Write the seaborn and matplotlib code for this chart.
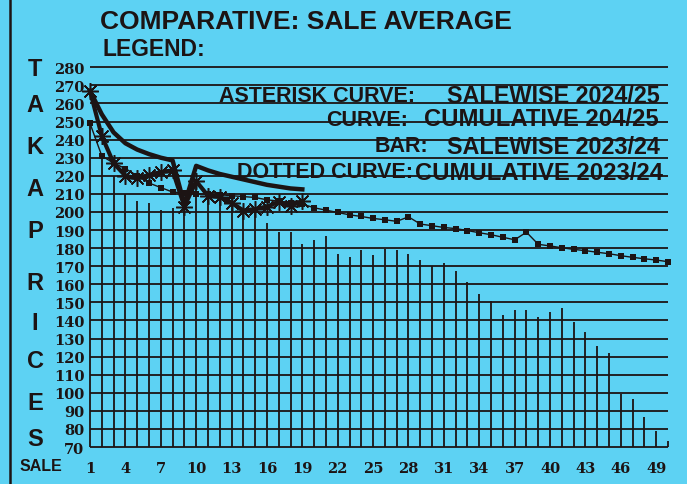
import numpy as np
import matplotlib
matplotlib.use("Agg")
import matplotlib.pyplot as plt
import seaborn as sns
from matplotlib.lines import Line2D

# values
sales = list(range(1, 51))
bar_2324 = [250, 232, 220, 210, 206, 205, 201, 202, 203, 216,
            209, 209, 209, 202, 203, 194, 189, 189, 182, 184.5,
            186.5, 176.5, 175, 179, 176, 179.5, 179, 177, 173.5, 170,
            171.5, 167.5, 161.5, 154.5, 151, 143, 146, 146, 142, 144.5,
            147, 139, 133.5, 126, 122, 99.5, 96.5, 86.5, 79, 73.5]
cum_2324 = [249, 231, 227, 224, 220, 216, 213.5, 211, 210.5, 210,
            209.8, 209.5, 209, 208.5, 208, 206.7, 206, 205.2, 204.4, 202.3,
            201, 199.7, 198.4, 197.5, 196.4, 195.7, 194.8, 197.3, 193.3, 192.4,
            191.4, 190.8, 189.7, 188.5, 187.4, 186, 184.6, 188.8, 182.1, 181.2,
            180.2, 179.3, 178.6, 177.7, 176.9, 175.8, 174.9, 174.1, 173.4, 172.5]
sales_2425 = list(range(1, 20))
sale_2425 = [267, 242, 227, 220, 218.5, 220.5, 222, 223, 203, 217,
             209, 208.3, 205, 200.8, 201.6, 203, 205.5, 203.5, 206]
cum_2425 = [267, 254, 244, 238, 234.5, 232, 230, 228.5, 204, 225.5,
            223, 221, 219.5, 218, 216.5, 215, 214, 213, 212.5]
yticks = list(range(70, 290, 10))
xticks = list(range(1, 50, 3))

bg = "#5dd2f3"
ink = "#1c1414"

W, H = 687, 485
fig = plt.figure(figsize=(W / 100, H / 100), dpi=100, facecolor=bg)
ax = fig.add_axes([90 / W, 1 - 448 / H, (668 - 90) / W, (448 - 68.3) / H])
ax.set_facecolor(bg)

# horizontal grid lines
ax.hlines(yticks, 1, 50, color=ink, lw=1.3, clip_on=False, zorder=1)
# bars drawn as thin vertical lines
ax.vlines(sales, 70, bar_2324, color=ink, lw=1.3, clip_on=False, zorder=2)

sns.lineplot(x=sales, y=cum_2324, ax=ax, color=ink, lw=1.0, marker="s",
             markersize=5, markeredgewidth=0, legend=False, zorder=3)
sns.lineplot(x=sales_2425, y=cum_2425, ax=ax, color=ink, lw=3.2,
             legend=False, zorder=4)
sns.lineplot(x=sales_2425, y=sale_2425, ax=ax, color=ink, lw=3.0,
             marker=(8, 2, 0), markersize=12, markeredgewidth=1.1,
             markeredgecolor=ink, legend=False, zorder=5)
for l in ax.lines:
    l.set_clip_on(False)

ax.set_xlim(1, 50)
ax.set_ylim(70, 280)
for s in ax.spines.values():
    s.set_visible(False)
ax.set_xlabel("")
ax.set_ylabel("")
ax.set_yticks(yticks)
ax.set_xticks(xticks)
tick_font = dict(family="DejaVu Serif", weight="bold", size=10.5)
ax.set_yticklabels([str(v) for v in yticks], fontdict=tick_font, color=ink)
ax.set_xticklabels([str(v) for v in xticks], fontdict=tick_font, color=ink)
ax.tick_params(axis="y", length=0, pad=4)
ax.tick_params(axis="x", length=0, pad=10)


def px(x, y):
    return x / W, 1 - y / H


sans = "Liberation Sans"
fig.text(*px(100, 22), "COMPARATIVE: SALE AVERAGE", family=sans, weight="bold",
         size=19, ha="left", va="center", color=ink)
fig.text(*px(103, 50), "LEGEND:", family=sans, weight="bold", size=16.5,
         ha="left", va="center", color=ink)

legend_rows = [
    (97, "ASTERISK CURVE:", 415, "SALEWISE 2024/25", 660, 16.8),
    (120, "CURVE:", 408, "CUMULATIVE 204/25", 659, 17.2),
    (147, "BAR:", 428, "SALEWISE 2023/24", 660, 16.8),
    (173, "DOTTED CURVE:", 413, "CUMULATIVE 2023/24", 663, 17.2),
]
for y, lab, xl, val, xv, fs in legend_rows:
    fig.text(*px(xl, y), lab, family=sans, weight="bold", size=15.5,
             ha="right", va="center", color=ink, zorder=10)
    fig.text(*px(xv, y), val, family=sans, weight="bold", size=fs,
             ha="right", va="center", color=ink, zorder=10)

for ch, y in zip("TAKAPRICES", [70, 105, 147, 190, 232, 283, 324, 362, 403, 440]):
    fig.text(*px(35, y), ch, family=sans, weight="bold", size=17,
             ha="center", va="center", color=ink)

fig.text(*px(41, 467), "SALE", family=sans, weight="bold", size=11.5,
         ha="center", va="center", color=ink)

fig.add_artist(Line2D([10 / W, 10 / W], [0, 1], color=ink, lw=1.8))

fig.savefig("out.png", dpi=100, facecolor=bg)
